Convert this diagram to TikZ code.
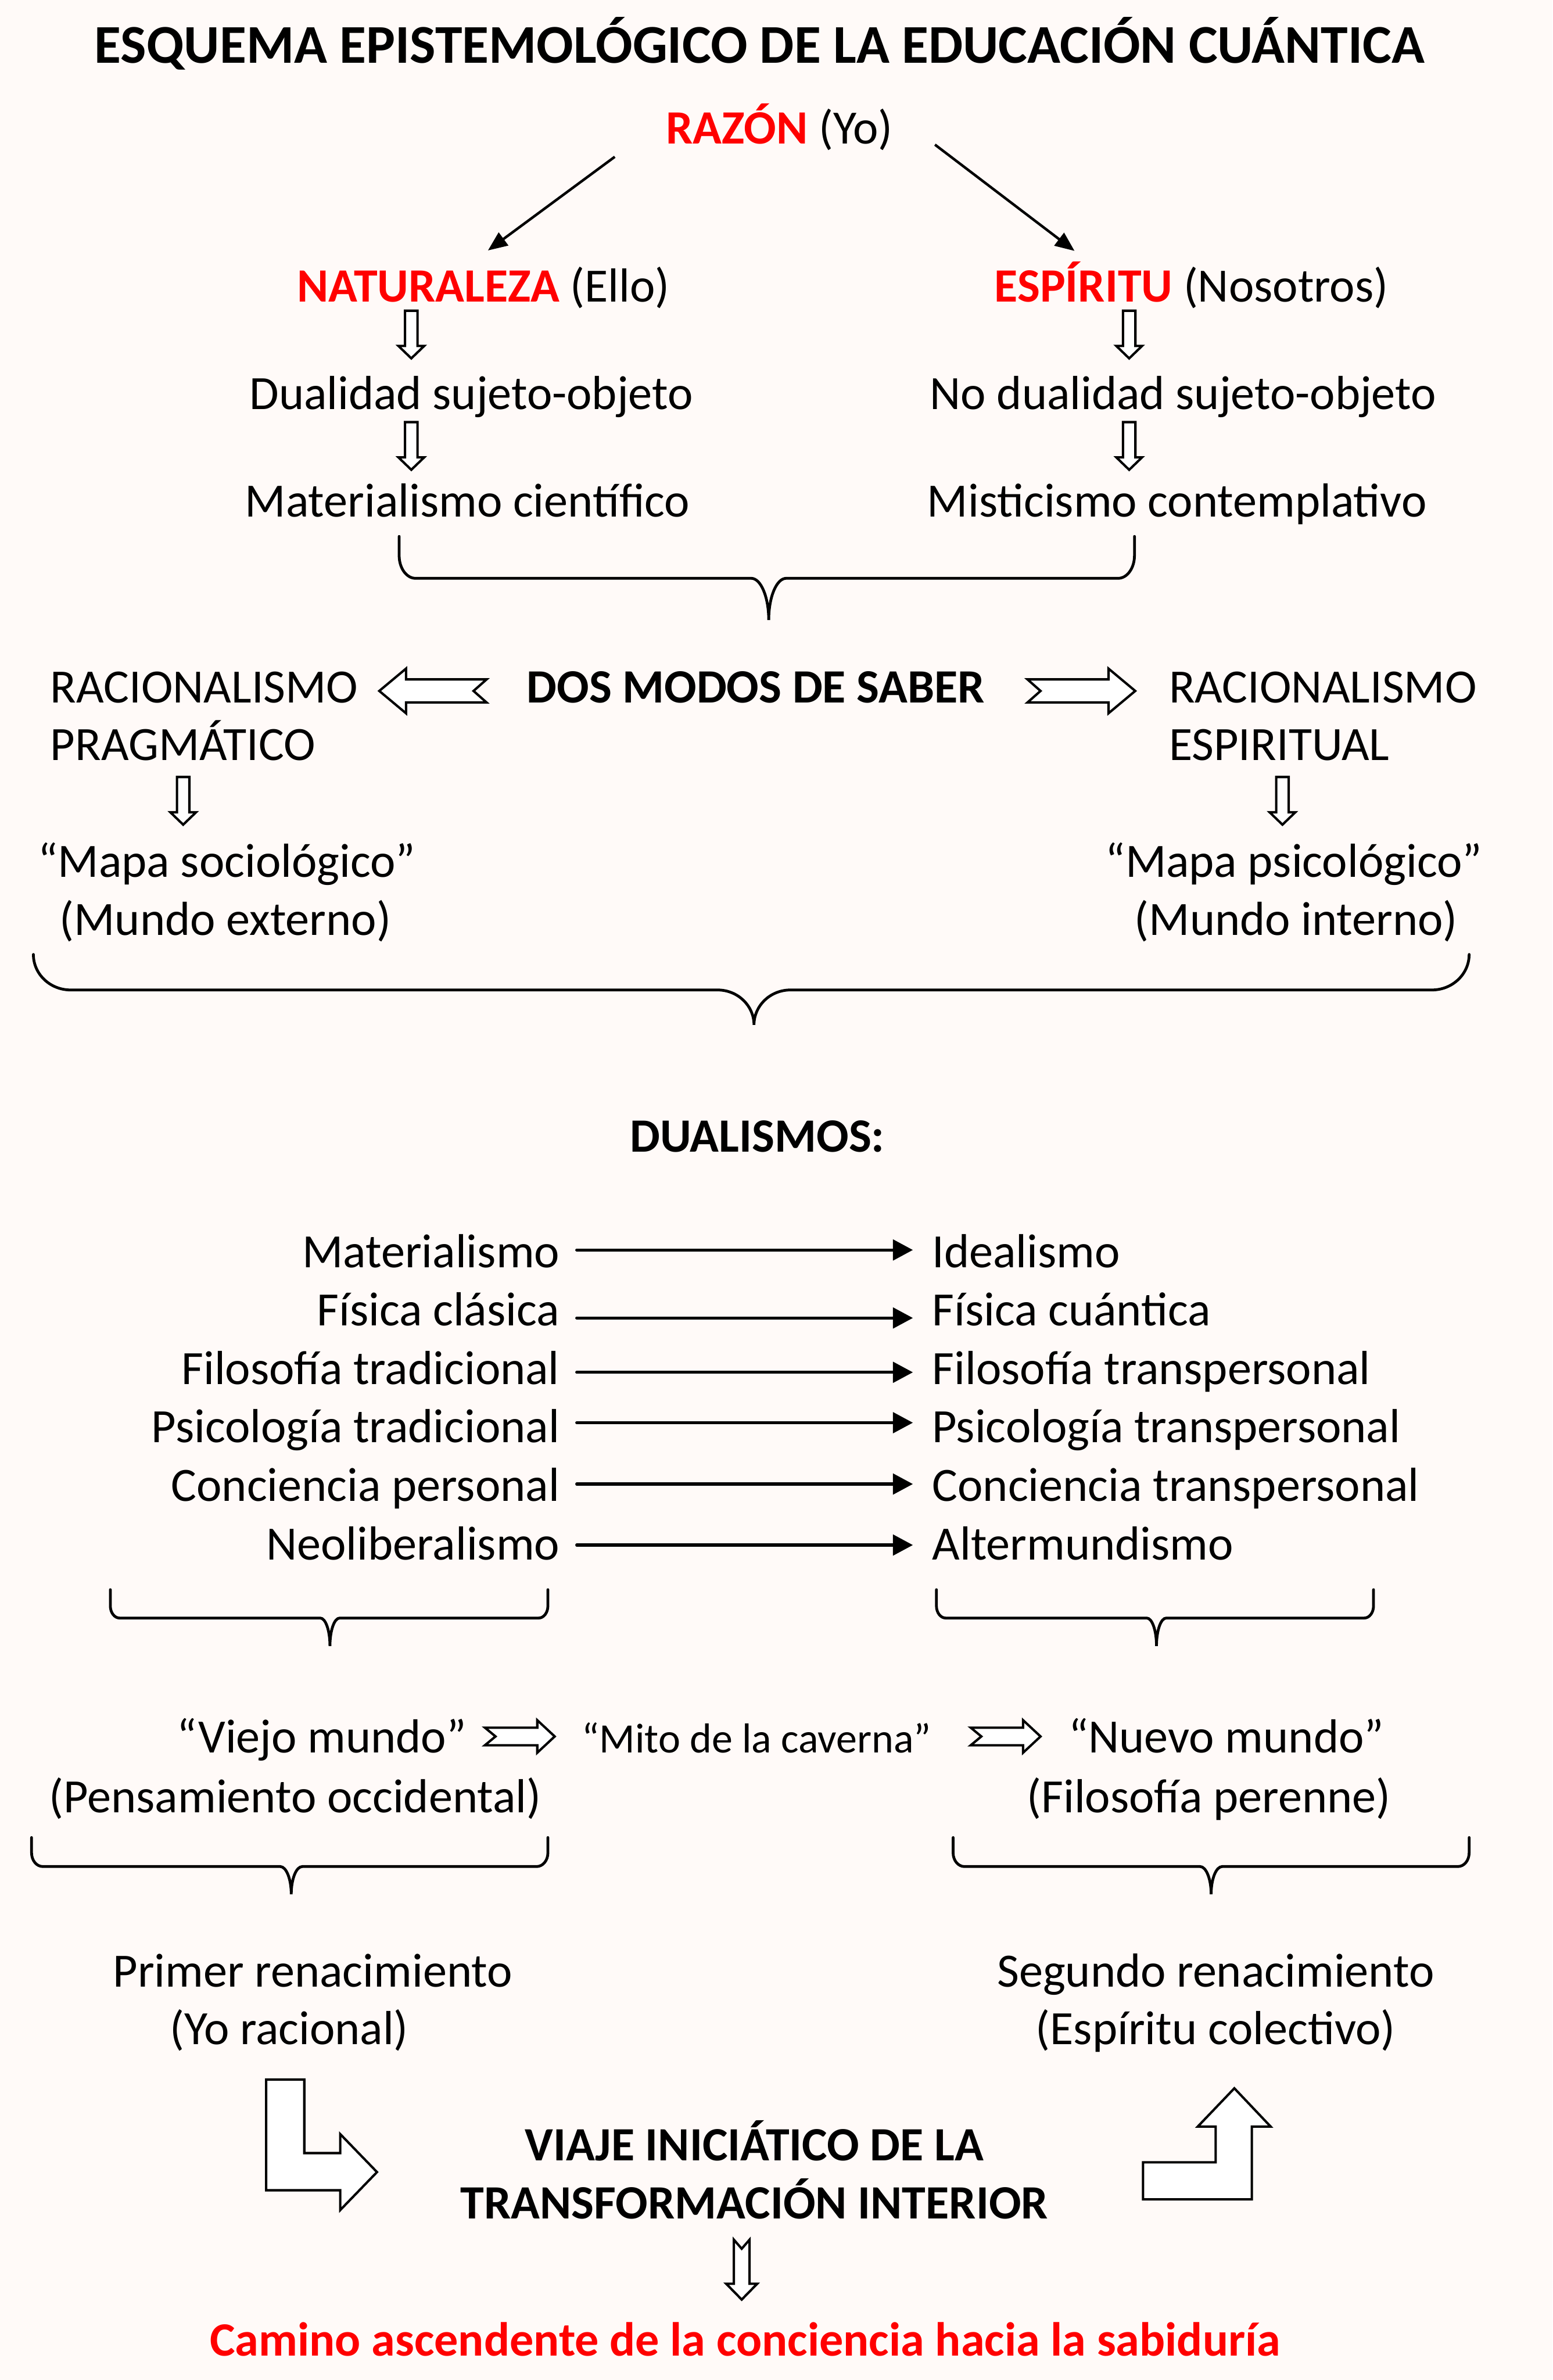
\documentclass[tikz,border=0pt]{standalone}
\usepackage{fontspec}
\setmainfont{Carlito}
\usepackage{xcolor}
\usepackage{tikz}
\usetikzlibrary{arrows.meta,calc}
\definecolor{rojo}{HTML}{FF0000}
\definecolor{fondo}{HTML}{FFFAF8}

\begin{document}
\begin{tikzpicture}[
  x=0.025cm, y=-0.025cm,
  txt/.style={inner sep=0pt, anchor=base, font=\fontsize{22.4pt}{26pt}\selectfont},
  neg/.style={txt, font=\fontsize{22.4pt}{26pt}\selectfont\bfseries},
  tit/.style={txt, font=\fontsize{25.6pt}{30pt}\selectfont\bfseries},
  peq/.style={txt, font=\fontsize{19.6pt}{23pt}\selectfont},
  fina/.style={-{Triangle[length=3.2mm,width=2.6mm]}, line width=1.2pt},
  dual/.style={-{Triangle[length=3.3mm,width=3.4mm]}, line width=1.4pt, line cap=round},
  contorno/.style={draw=black, fill=white, line width=1.1pt, line join=miter},
  trazo/.style={draw=black, line width=1.3pt, line cap=round},
  % flecha hueca: largo / medio cuerpo / media punta / largo punta / muesca
  pics/hueca/.style n args={5}{code={
    \draw[contorno] (0,-#2) -- (#1-#4,-#2) -- (#1-#4,-#3) -- (#1,0)
      -- (#1-#4,#3) -- (#1-#4,#2) -- (0,#2) -- (#5,0) -- cycle;
  }},
  % llave: izq / der / alto / punta / radio x / radio y / medio
  pics/llave/.style n args={7}{code={
    \draw[trazo] (-#1,-#3) -- (-#1,-#6)
      .. controls (-#1,-0.448*#6) and (-#1+0.448*#5,0) .. (-#1+#5,0)
      -- (-#7,0) .. controls (-0.448*#7,0) and (0,0.448*#4) .. (0,#4)
      .. controls (0,0.448*#4) and (0.448*#7,0) .. (#7,0)
      -- (#2-#5,0) .. controls (#2-0.448*#5,0) and (#2,-0.448*#6) .. (#2,-#6)
      -- (#2,-#3);
  }},
]
\fill[fondo] (0,0) rectangle (1023,1568);
\useasboundingbox (0,0) rectangle (1023,1568);

%============================ RAZON ============================
\node[tit] (titulo) at (500.5,41.7) {ESQUEMA EPISTEMOLÓGICO DE LA EDUCACIÓN CUÁNTICA};
\node[txt] (razon) at (513.5,94.8) {\textcolor{rojo}{\textbf{RAZÓN}} (Yo)};

\node[txt] (natur) at (318.5,198.8) {\textcolor{rojo}{\textbf{NATURALEZA}} (Ello)};
\node[txt] (espir) at (785,198.8) {\textcolor{rojo}{\textbf{ESPÍRITU}} (Nosotros)};

\draw[fina] ($(razon.base west)+(-33.5,8.5)$) -- ($(natur.base)+(3,-33.8)$);
\draw[fina] ($(razon.base east)+(27.6,0.5)$) -- ($(espir.base)+(-77,-33.5)$);

\node[txt] (dualizq) at (310.5,269.6) {Dualidad sujeto-objeto};
\node[txt] (dualder) at (779.5,269.6) {No dualidad sujeto-objeto};
\node[txt] (matcie)  at (308,340.4)   {Materialismo científico};
\node[txt] (miscon)  at (775.5,340.4) {Misticismo contemplativo};

\foreach \x/\y in {271/204.7, 744/204.7, 271/278.1, 744/278.1}
  \pic[rotate=-90] at (\x,\y) {hueca={31.4}{4.1}{8.5}{8.2}{0}};

\pic at (506.5,381) {llave={243.5}{241}{27.6}{27.5}{10.8}{15}{11.5}};

%============================ DOS MODOS ============================
\node[neg] (dosmodos) at (498,463) {DOS MODOS DE SABER};
\node[txt, anchor=base west] (racprag1) at (33,463) {RACIONALISMO};
\node[txt, anchor=base west] (racprag2) at (33,501) {PRAGMÁTICO};
\node[txt, anchor=base west] (racesp1) at (770,463) {RACIONALISMO};
\node[txt, anchor=base west] (racesp2) at (770,501) {ESPIRITUAL};

\pic[rotate=180] at (320.6,455.2) {hueca={70.7}{7.6}{14.7}{17.6}{8.6}};
\pic at (677,455.2) {hueca={71}{7.6}{14.7}{17.6}{8.6}};
\pic[rotate=-90] at (120.7,511.9) {hueca={31.4}{4.1}{8.5}{8.2}{0}};
\pic[rotate=-90] at (845,511.9) {hueca={31.4}{4.1}{8.5}{8.2}{0}};

\node[txt] (mapsoc)   at (149.5,578) {“Mapa sociológico”};
\node[txt] (mundoext) at (148.5,616) {(Mundo externo)};
\node[txt] (mappsi)   at (852.5,578) {“Mapa psicológico”};
\node[txt] (mundoint) at (854,616)   {(Mundo interno)};

\pic at (496.8,652.2) {llave={474.8}{471.2}{23.4}{23}{24.5}{23.4}{24}};

%============================ DUALISMOS ============================
\node[neg] (dualismos) at (499,758.8) {DUALISMOS:};

\foreach \i/\izq/\der/\yb/\dy in {
    1/Materialismo/Idealismo/835/-11.5,
    2/Física clásica/Física cuántica/873.5/-5.2,
    3/Filosofía tradicional/Filosofía transpersonal/912/-7.9,
    4/Psicología tradicional/Psicología transpersonal/950.5/-13.2,
    5/Conciencia personal/Conciencia transpersonal/989/-11.3,
    6/Neoliberalismo/Altermundismo/1027.5/-9.6}{
  \node[txt, anchor=base east] (izq\i) at (369,\yb) {\izq};
  \node[txt, anchor=base west] (der\i) at (614,\yb) {\der};
  \draw[dual] ($(izq\i.base east)+(11,\dy)$) -- ($(der\i.base west)+(-12.5,\dy)$);
}

\pic at (217.4,1066) {llave={144.7}{143.6}{18.7}{18.4}{6.1}{8}{6.4}};
\pic at (762,1066)   {llave={145}{143}{18.7}{18.4}{6.1}{8}{6.4}};

%============================ CAVERNA ============================
\node[txt] (viejo)  at (212,1154.7)   {“Viejo mundo”};
\node[peq] (mito)   at (498.5,1154.7) {“Mito de la caverna”};
\node[txt] (nuevo)  at (808,1154.7)   {“Nuevo mundo”};
\node[txt] (pensocc) at (194.5,1194)  {(Pensamiento occidental)};
\node[txt] (filper)  at (796.5,1194)  {(Filosofía perenne)};

\pic at (319.5,1144) {hueca={46}{5.8}{10.7}{11.5}{7}};
\pic at (639.6,1144) {hueca={46}{5.8}{10.7}{11.5}{7}};

\pic at (191.9,1229.7) {llave={171.1}{169.1}{19.1}{18.3}{7.4}{9}{7.3}};
\pic at (798,1229.7)   {llave={170}{170}{19.1}{18.3}{7.4}{9}{7.3}};

%============================ VIAJE ============================
\node[txt] (primer)     at (206,1309)   {Primer renacimiento};
\node[txt] (yoracional) at (190.5,1347) {(Yo racional)};
\node[txt] (segundo)    at (801,1309)   {Segundo renacimiento};
\node[txt] (espcol)     at (801,1347)   {(Espíritu colectivo)};

\node[neg] (viaje1) at (497,1423.3) {VIAJE INICIÁTICO DE LA};
\node[neg] (viaje2) at (497,1461.9) {TRANSFORMACIÓN INTERIOR};

% flechas quebradas
\draw[contorno] (175.4,1370) -- (200.5,1370) -- (200.5,1418.5) -- (224.2,1418.5)
  -- (224.2,1406) -- (248.4,1431) -- (224.2,1456) -- (224.2,1443) -- (175.4,1443) -- cycle;
\draw[contorno] (753.1,1449) -- (824.8,1449) -- (824.8,1401) -- (837.2,1401)
  -- (813.3,1375.8) -- (789.2,1401) -- (801,1401) -- (801,1424.6) -- (753.1,1424.6) -- cycle;

\pic[rotate=-90] at (488.7,1475.5) {hueca={39.5}{5.2}{10.2}{10.4}{6}};

\node[neg, text=rojo] (camino) at (491,1552) {Camino ascendente de la conciencia hacia la sabiduría};

\end{tikzpicture}
\end{document}
